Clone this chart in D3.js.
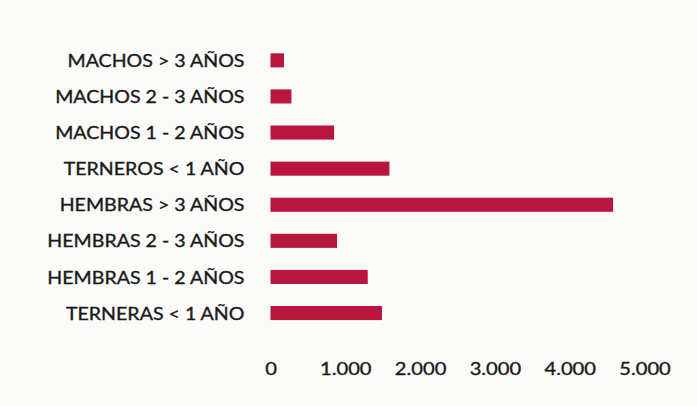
<!DOCTYPE html>
<html>
<head>
<meta charset="utf-8">
<script src="https://cdn.jsdelivr.net/npm/d3@7"></script>
<style>
  html, body { margin: 0; padding: 0; background: #fbfbfa; }
  svg { display: block; }
  text { font-family: Lato, "Open Sans", sans-serif; }
</style>
</head>
<body>
<script>
const categories = [
  "MACHOS > 3 AÑOS",
  "MACHOS 2 - 3 AÑOS",
  "MACHOS 1 - 2 AÑOS",
  "TERNEROS < 1 AÑO",
  "HEMBRAS > 3 AÑOS",
  "HEMBRAS 2 - 3 AÑOS",
  "HEMBRAS 1 - 2 AÑOS",
  "TERNERAS < 1 AÑO"
];
const values = [180, 280, 850, 1590, 4580, 890, 1300, 1490];
const tickValues = [0, 1000, 2000, 3000, 4000, 5000];
const tickLabels = ["0", "1.000", "2.000", "3.000", "4.000", "5.000"];

const W = 697, H = 406;
const svg = d3.select("body").append("svg").attr("width", W).attr("height", H);
svg.append("rect").attr("width", W).attr("height", H).attr("fill", "#fbfbfa");

const x = d3.scaleLinear().domain([0, 5000]).range([270.5, 644.5]);
const y = d3.scaleBand().domain(categories).range([31.3, 342.1]).paddingInner(0.61).paddingOuter(0.61);

const sx = 1.12;

// bars
svg.append("g").selectAll("rect").data(categories).join("rect")
  .attr("x", x(0))
  .attr("y", d => y(d))
  .attr("width", (d, i) => x(values[i]) - x(0))
  .attr("height", y.bandwidth())
  .attr("fill", "#b8163c");

// category labels
svg.append("g").selectAll("text").data(categories).join("text")
  .attr("transform", d => `translate(${x(0) - 26},${y(d) + y.bandwidth() / 2}) scale(${sx},1)`)
  .attr("text-anchor", "end")
  .attr("dominant-baseline", "central")
  .attr("font-size", 17.5)
  .attr("font-weight", 400)
  .attr("fill", "#1a1a1a")
  .attr("stroke", "#1a1a1a")
  .attr("stroke-width", 0.35)
  .text(d => d);

// x axis tick labels (no line, no ticks)
const xAxis = d3.axisBottom(x).tickValues(tickValues).tickFormat((d, i) => tickLabels[i]).tickSize(0).tickPadding(0);
const gx = svg.append("g").attr("transform", "translate(0,362)").call(xAxis);
gx.select(".domain").remove();
gx.selectAll("text")
  .attr("font-size", 18)
  .attr("font-family", "Lato, 'Open Sans', sans-serif")
  .attr("font-weight", 400)
  .attr("fill", "#1a1a1a")
  .attr("stroke", "#1a1a1a")
  .attr("stroke-width", 0.35)
  .attr("dy", "0.7em")
  .style("transform-box", "fill-box")
  .style("transform-origin", "center")
  .style("transform", `scale(${sx},1)`);
</script>
</body>
</html>
